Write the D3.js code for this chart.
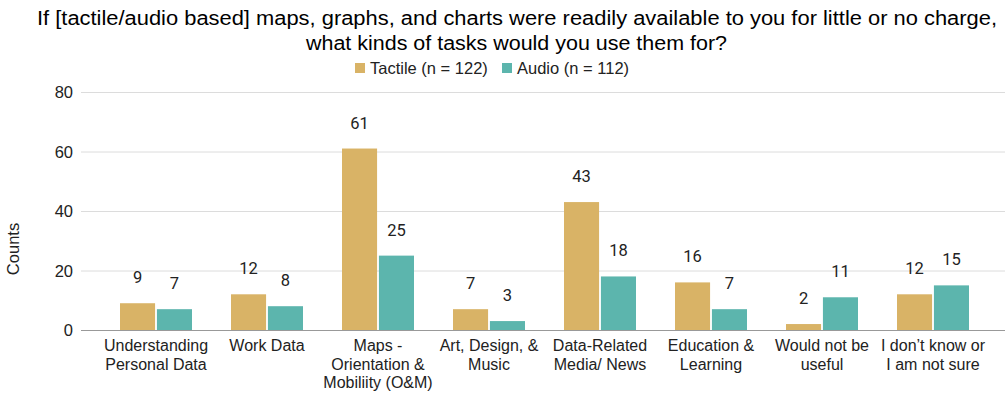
<!DOCTYPE html>
<html>
<head>
<meta charset="utf-8">
<script src="https://cdn.jsdelivr.net/npm/d3@7"></script>
<style>
  body { margin: 0; background: #fff; }
  svg { display: block; }
</style>
</head>
<body>
<svg id="chart" width="1005" height="397"></svg>
<script>
var categories = [
    ['Understanding', 'Personal Data'],
    ['Work Data'],
    ['Maps -', 'Orientation &', 'Mobiliity (O&M)'],
    ['Art, Design, &', 'Music'],
    ['Data-Related', 'Media/ News'],
    ['Education &', 'Learning'],
    ['Would not be', 'useful'],
    ['I don\u2019t know or', 'I am not sure']
];
var tactile = [9, 12, 61, 7, 43, 16, 2, 12];
var audio = [7, 8, 25, 3, 18, 7, 11, 15];
var series_names = ['Tactile (n = 122)', 'Audio (n = 112)'];
var y_ticks = [0, 20, 40, 60, 80];

var colors = ['#d9b366', '#5cb5ad'];
var sans = '"Liberation Sans", Arial, sans-serif';
var svg = d3.select('#chart');

var x = d3.scaleBand()
    .domain(d3.range(categories.length))
    .range([100.5, 988.5]);

var y = d3.scaleLinear()
    .domain([0, 80])
    .range([330, 92]);

var sub = d3.scaleBand()
    .domain([0, 1])
    .range([x.bandwidth() / 2 - 36, x.bandwidth() / 2 + 36])
    .paddingInner(0.05);

// Title, stretched to the width it has in the picture
svg.append('text')
    .attr('x', 37).attr('y', 25)
    .attr('textLength', 960)
    .attr('lengthAdjust', 'spacingAndGlyphs')
    .style('font', '19.5px ' + sans)
    .text('If [tactile/audio based] maps, graphs, and charts were readily available to you for little or no charge,');
svg.append('text')
    .attr('x', 306).attr('y', 50)
    .attr('textLength', 421)
    .attr('lengthAdjust', 'spacingAndGlyphs')
    .style('font', '19.5px ' + sans)
    .text('what kinds of tasks would you use them for?');

// Legend
var legend_x = [355, 502];
series_names.forEach(function (name, i) {
    svg.append('rect')
        .attr('x', legend_x[i]).attr('y', 63)
        .attr('width', 10).attr('height', 10)
        .attr('fill', colors[i]);
    svg.append('text')
        .attr('x', legend_x[i] + 15).attr('y', 74)
        .style('font', '16.5px ' + sans)
        .attr('fill', '#222')
        .text(name);
});

// Grid and y ticks
svg.append('g').selectAll('line')
    .data(y_ticks.slice(1))
    .join('line')
    .attr('x1', 81).attr('x2', 1005)
    .attr('y1', function (d) { return y(d) + 0.5; })
    .attr('y2', function (d) { return y(d) + 0.5; })
    .attr('stroke', '#dcdcdc');

svg.append('g').selectAll('text')
    .data(y_ticks)
    .join('text')
    .attr('x', 73)
    .attr('y', function (d) { return y(d) + 6; })
    .attr('text-anchor', 'end')
    .style('font', '16.5px ' + sans)
    .attr('fill', '#222')
    .text(function (d) { return d; });

svg.append('text')
    .attr('transform', 'translate(19,249) rotate(-90)')
    .attr('text-anchor', 'middle')
    .style('font', '16.5px ' + sans)
    .attr('fill', '#222')
    .text('Counts');

// Bars
var groups = svg.append('g').selectAll('g')
    .data(categories)
    .join('g')
    .attr('transform', function (d, i) { return 'translate(' + x(i) + ',0)'; });

[tactile, audio].forEach(function (values, s) {
    groups.append('rect')
        .attr('x', sub(s))
        .attr('width', sub.bandwidth())
        .attr('y', function (d, i) { return y(values[i]); })
        .attr('height', function (d, i) { return y(0) - y(values[i]); })
        .attr('fill', colors[s]);

    groups.append('text')
        .attr('x', sub(s) + sub.bandwidth() / 2)
        .attr('y', function (d, i) { return y(values[i]) - 20; })
        .attr('text-anchor', 'middle')
        .style('font', '16.5px Roboto, sans-serif')
        .attr('fill', '#222')
        .text(function (d, i) { return values[i]; });
});

// Baseline
svg.append('line')
    .attr('x1', 81).attr('x2', 1005)
    .attr('y1', y(0) + 0.5).attr('y2', y(0) + 0.5)
    .attr('stroke', '#999');

// Category labels
groups.append('text')
    .attr('x', x.bandwidth() / 2)
    .attr('text-anchor', 'middle')
    .style('font', '16px ' + sans)
    .attr('fill', '#222')
    .selectAll('tspan')
    .data(function (d) { return d; })
    .join('tspan')
    .attr('x', x.bandwidth() / 2)
    .attr('y', function (d, j) { return 351 + j * 18.5; })
    .text(function (d) { return d; });
</script>
</body>
</html>
